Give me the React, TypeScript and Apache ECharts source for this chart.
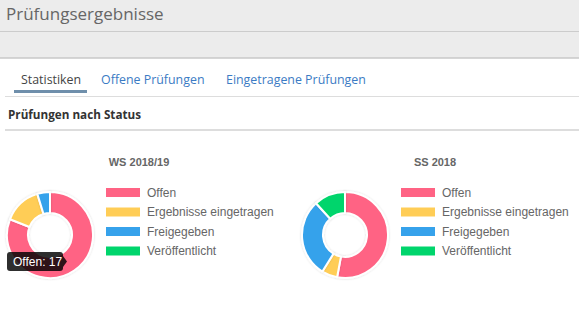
import React, { useEffect, useRef } from "react";
import * as echarts from "echarts";

const categories = ["Offen", "Ergebnisse eingetragen", "Freigegeben", "Veröffentlicht"];
const colors = ["#ff6384", "#ffcd56", "#36a2eb", "#00d56c"];
const wsValues = [17, 3, 1, 0];
const ssValues = [9, 1, 5, 2];
const semesters = ["WS 2018/19", "SS 2018"];
const tabs = ["Statistiken", "Offene Prüfungen", "Eingetragene Prüfungen"];
const pageTitle = "Prüfungsergebnisse";
const sectionTitle = "Prüfungen nach Status";

export default function App() {
  const ref = useRef<HTMLDivElement>(null);
  useEffect(() => {
    if (!ref.current) return;
    document.body.style.margin = "0";
    const chart = echarts.init(ref.current, undefined, { renderer: "svg" });
    const uiFont = "'Open Sans', 'Noto Sans', sans-serif";
    const chartFont = "'Liberation Sans', Arial, sans-serif";
    const mkData = (vals: number[]) =>
      categories.map((c, i) => ({ name: c, value: vals[i], itemStyle: { color: colors[i] } }));
    const legendBase = {
      orient: "vertical" as const,
      top: 186,
      itemWidth: 36,
      itemHeight: 11,
      itemGap: 6.5,
      icon: "rect",
      selectedMode: false,
      padding: 0,
      textStyle: { fontFamily: chartFont, fontSize: 12, color: "#666", lineHeight: 11, padding: [0, 0, 0, 1] },
      data: categories,
    };
    const tipText = `${categories[0]}: ${wsValues[0]}`;
    chart.setOption({
      animation: false,
      tooltip: { show: false },
      title: [
        {
          text: semesters[0],
          left: 139,
          top: 156,
          padding: 0,
          textAlign: "center",
          textStyle: { fontFamily: chartFont, fontSize: 11, fontWeight: "bold", color: "#666" },
        },
        {
          text: semesters[1],
          left: 435,
          top: 156,
          padding: 0,
          textAlign: "center",
          textStyle: { fontFamily: chartFont, fontSize: 11, fontWeight: "bold", color: "#666" },
        },
      ],
      legend: [
        { ...legendBase, left: 104 },
        { ...legendBase, left: 399 },
      ],
      series: [
        {
          type: "pie",
          center: [50, 235],
          radius: [22, 43],
          startAngle: 90,
          clockwise: true,
          label: { show: false },
          labelLine: { show: false },
          silent: true,
          itemStyle: { borderColor: "#fff", borderWidth: 2, shadowBlur: 2, shadowColor: "rgba(0,0,0,0.15)" },
          data: mkData(wsValues),
        },
        {
          type: "pie",
          center: [345, 235],
          radius: [22, 43],
          startAngle: 90,
          clockwise: true,
          label: { show: false },
          labelLine: { show: false },
          silent: true,
          itemStyle: { borderColor: "#fff", borderWidth: 2, shadowBlur: 2, shadowColor: "rgba(0,0,0,0.15)" },
          data: mkData(ssValues),
        },
      ],
      graphic: [
        { type: "rect", shape: { x: 0, y: 0, width: 579, height: 58 }, style: { fill: "#ececec" }, z: -10 },
        { type: "line", shape: { x1: 0, y1: 31.5, x2: 579, y2: 31.5 }, style: { stroke: "#cccccc", lineWidth: 1 } },
        { type: "line", shape: { x1: 0, y1: 58, x2: 579, y2: 58 }, style: { stroke: "#c8c8c8", lineWidth: 1.5 } },
        {
          type: "text",
          x: 6,
          y: 13,
          style: { text: pageTitle, fontFamily: uiFont, fontSize: 17, fill: "#666", textVerticalAlign: "middle" },
        },
        {
          type: "text",
          x: 21,
          y: 79,
          style: { text: tabs[0], fontFamily: uiFont, fontSize: 12.4, fill: "#444", textVerticalAlign: "middle" },
        },
        {
          type: "text",
          x: 101,
          y: 79,
          style: { text: tabs[1], fontFamily: uiFont, fontSize: 12.4, fill: "#3b7bc4", textVerticalAlign: "middle" },
        },
        {
          type: "text",
          x: 226,
          y: 79,
          style: { text: tabs[2], fontFamily: uiFont, fontSize: 12.4, fill: "#3b7bc4", textVerticalAlign: "middle" },
        },
        { type: "rect", shape: { x: 14, y: 90, width: 73, height: 3 }, style: { fill: "#6f8fab" } },
        { type: "line", shape: { x1: 5, y1: 96.5, x2: 579, y2: 96.5 }, style: { stroke: "#dddddd", lineWidth: 1 } },
        {
          type: "text",
          x: 8,
          y: 114,
          style: {
            text: sectionTitle,
            fontFamily: uiFont,
            fontSize: 11.7,
            fontWeight: "bold",
            fill: "#333",
            textVerticalAlign: "middle",
          },
        },
        { type: "rect", shape: { x: 5, y: 129, width: 574, height: 2 }, style: { fill: "#dddddd" } },
        {
          type: "rect",
          z: 100,
          shape: { x: 7, y: 252, width: 56, height: 19, r: 3 },
          style: { fill: "rgba(0,0,0,0.82)" },
        },
        {
          type: "polygon",
          z: 100,
          shape: { points: [[63, 256], [67, 261.5], [63, 267]] },
          style: { fill: "rgba(0,0,0,0.82)" },
        },
        {
          type: "text",
          z: 101,
          x: 13,
          y: 261.5,
          style: { text: tipText, fontFamily: chartFont, fontSize: 12, fill: "#fff", textVerticalAlign: "middle" },
        },
      ],
    });
    return () => chart.dispose();
  }, []);
  return <div ref={ref} style={{ width: 579, height: 321, background: "#fff" }} />;
}
